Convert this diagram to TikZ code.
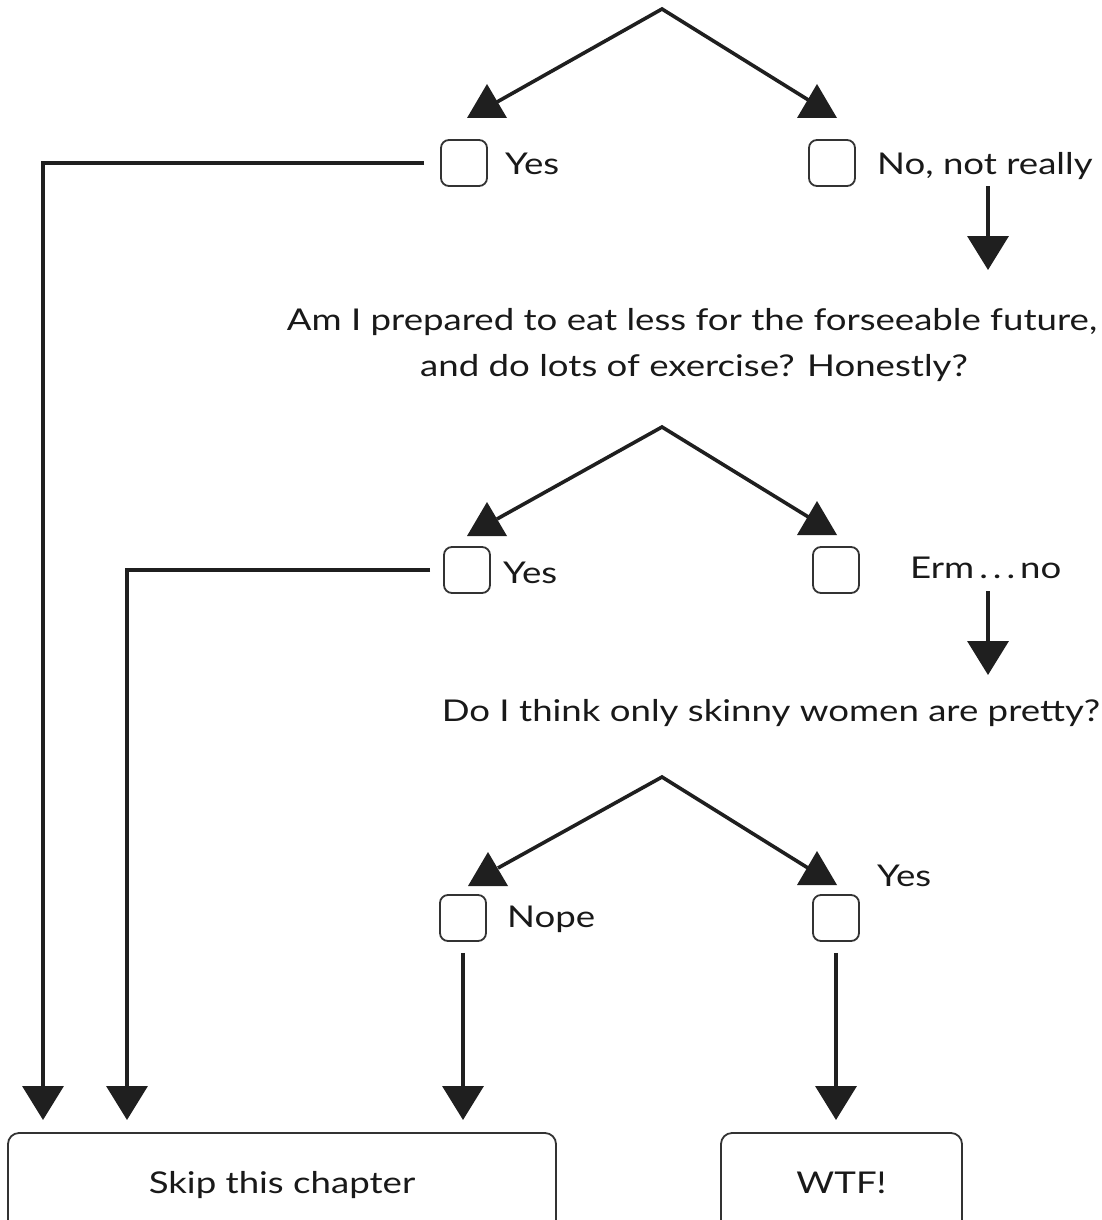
\documentclass[tikz,border=0pt]{standalone}
\usepackage{fontspec}
\setmainfont{Lato}[FakeStretch=1.22]
\usetikzlibrary{arrows.meta}
\begin{document}
\begin{tikzpicture}[x=1pt,y=-1pt,
  conn/.style={line width=3.6pt, draw=black!88, line join=miter},
  dtip/.style={-{Triangle[width=41pt,length=34pt]}},
  cbox/.style={draw=black!80, line width=1.8pt, rounded corners=8pt, minimum width=46pt, minimum height=46pt, inner sep=0pt},
  lbl/.style={font=\fontsize{30}{36}\selectfont, text=black!90, inner sep=0pt, anchor=base west},
  qtext/.style={font=\fontsize{30}{36}\selectfont, text=black!90, inner sep=0pt, anchor=base},
  endbox/.style={draw=black!80, line width=1.8pt, rounded corners=11pt, inner sep=0pt, font=\fontsize{30}{36}\selectfont, text=black!90, text height=21pt, text depth=7pt},
  uptri/.pic={\fill[black!88] (0,0) -- (-20,34) -- (20,34) -- cycle;}
]
\useasboundingbox (0,0) rectangle (1102,1220);
\clip (0,0) rectangle (1102,1220);

% ---------- tier 1 ----------
\coordinate (apex1) at (662,9);
\coordinate (t1l) at (497,102);
\coordinate (t1r) at (810,101);
\draw[conn] (t1l) -- (apex1) -- (t1r);
\pic at (487,84) {uptri};
\pic at (817,84) {uptri};

\node[cbox] (cb1) at (464,163) {};
\node[cbox] (cb2) at (832,163) {};
\node[lbl] (y1) at (505,174) {Yes};
\node[lbl] (n1) at (877,174) {No, not really};

% ---------- question 1 ----------
\node[qtext] (q1) at (692,330) {Am I prepared to eat less for the forseeable future,};
\node[qtext] (q1b) at (694,376) {and do lots of exercise? Honestly?};
\coordinate (d1s) at (988,186);
\coordinate (d1e) at (988,270);
\draw[conn,dtip] (d1s) -- (d1e);

% ---------- tier 2 ----------
\coordinate (apex2) at (662,427);
\coordinate (t2l) at (497,519);
\coordinate (t2r) at (810,518);
\draw[conn] (t2l) -- (apex2) -- (t2r);
\pic at (487,502) {uptri};
\pic at (817,501) {uptri};

\node[cbox] (cb3) at (467,570) {};
\node[cbox] (cb4) at (836,570) {};
\node[lbl] (y2) at (503,583) {Yes};
\node[lbl] (n2) at (910,578) {Erm\,.\,.\,.\,no};
\coordinate (d2s) at (988,591);
\coordinate (d2e) at (988,675);
\draw[conn,dtip] (d2s) -- (d2e);

% ---------- question 2 ----------
\node[qtext] (q2) at (771,721) {Do I think only skinny women are pretty?};

% ---------- tier 3 ----------
\coordinate (apex3) at (662,777);
\coordinate (t3l) at (498,868);
\coordinate (t3r) at (808,868);
\draw[conn] (t3l) -- (apex3) -- (t3r);
\pic at (488,852) {uptri};
\pic at (817,851) {uptri};

\node[cbox] (cb5) at (463,918) {};
\node[cbox] (cb6) at (836,918) {};
\node[lbl] (n3) at (507,927) {Nope};
\node[lbl] (y3) at (877,886) {Yes};

% ---------- end boxes ----------
\node[endbox, minimum width=548pt, minimum height=106pt] (skip) at (282,1186) {Skip this chapter};
\node[endbox, minimum width=241pt, minimum height=106pt] (wtf) at (841.5,1186) {WTF!};

\coordinate (s1) at (43,1133);
\coordinate (s2) at (127,1133);
\coordinate (s3) at (463,1133);
\coordinate (s4) at (836,1133);

% ---------- connectors to the end boxes ----------
\draw[conn,dtip,shorten <=16pt,shorten >=13pt] (cb1.west) -| (s1);
\draw[conn,dtip,shorten <=13pt,shorten >=13pt] (cb3.west) -| (s2);
\draw[conn,dtip,shorten <=11pt,shorten >=13pt] (cb5.south) -- (s3);
\draw[conn,dtip,shorten <=11pt,shorten >=13pt] (cb6.south) -- (s4);
\end{tikzpicture}
\end{document}
